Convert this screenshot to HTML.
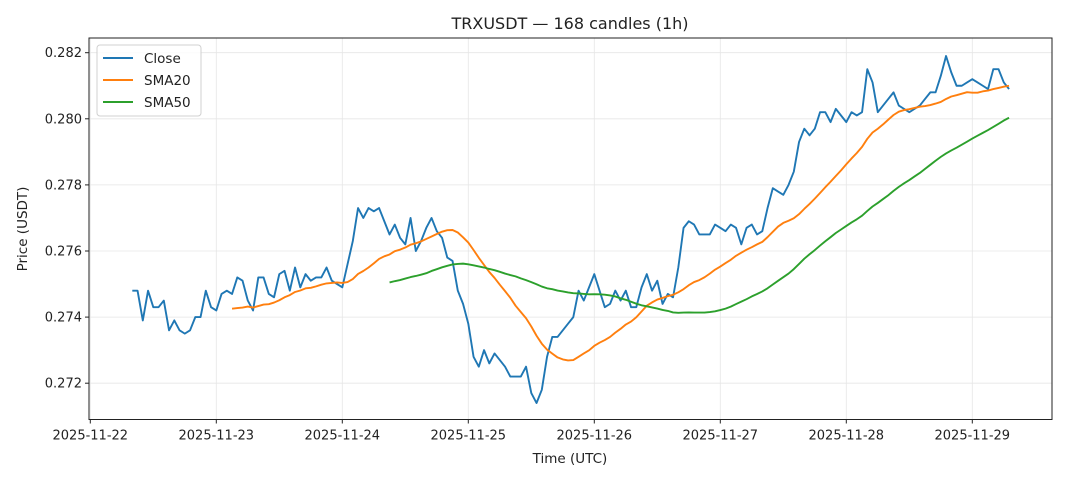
<!DOCTYPE html>
<html><head><meta charset="utf-8"><style>
body{margin:0;background:#fff}
svg{display:block;font-family:"DejaVu Sans","Liberation Sans",sans-serif}
</style></head><body>
<svg id="chart" width="1068" height="481" viewBox="0 0 1068 481"></svg>
<script>
const closeValues=[0.2748,0.2748,0.2739,0.2748,0.2743,0.2743,0.2745,0.2736,0.2739,0.2736,0.2735,0.2736,0.2740,0.2740,0.2748,0.2743,
0.2742,0.2747,0.2748,0.2747,0.2752,0.2751,0.2745,0.2742,0.2752,0.2752,0.2747,0.2746,0.2753,0.2754,0.2748,0.2755,0.2749,0.2753,0.2751,0.2752,0.2752,0.2755,0.2751,0.2750,
0.2749,0.2756,0.2763,0.2773,0.2770,0.2773,0.2772,0.2773,0.2769,0.2765,0.2768,0.2764,0.2762,0.2770,0.2760,0.2763,0.2767,0.2770,0.2766,0.2764,0.2758,0.2757,0.2748,0.2744,
0.2738,0.2728,0.2725,0.2730,0.2726,0.2729,0.2727,0.2725,0.2722,0.2722,0.2722,0.2725,0.2717,0.2714,0.2718,0.2728,0.2734,0.2734,0.2736,0.2738,0.2740,0.2748,0.2745,0.2749,
0.2753,0.2748,0.2743,0.2744,0.2748,0.2745,0.2748,0.2743,0.2743,0.2749,0.2753,0.2748,0.2751,0.2744,0.2747,0.2746,0.2755,0.2767,0.2769,0.2768,0.2765,0.2765,0.2765,0.2768,
0.2767,0.2766,0.2768,0.2767,0.2762,0.2767,0.2768,0.2765,0.2766,0.2773,0.2779,0.2778,0.2777,0.2780,0.2784,0.2793,0.2797,0.2795,0.2797,0.2802,0.2802,0.2799,0.2803,0.2801,
0.2799,0.2802,0.2801,0.2802,0.2815,0.2811,0.2802,0.2804,0.2806,0.2808,0.2804,0.2803,0.2802,0.2803,0.2804,0.2806,0.2808,0.2808,0.2813,0.2819,0.2814,0.2810,0.2810,0.2811,
0.2812,0.2811,0.2810,0.2809,0.2815,0.2815,0.2811,0.2809];
const startHour=8;
const yTicks=[0.272,0.274,0.276,0.278,0.280,0.282];
const yTickLabels=["0.272","0.274","0.276","0.278","0.280","0.282"];
const xTickDays=[0,1,2,3,4,5,6,7];
const xTickLabels=["2025-11-22","2025-11-23","2025-11-24","2025-11-25","2025-11-26","2025-11-27","2025-11-28","2025-11-29"];

const NS="http://www.w3.org/2000/svg";
const svg=document.getElementById('chart');
const L=89,R=1052,T=38,B=419.5;
function xOf(h){return 90.3+h*126/24;}
function yOf(v){return 52.7+(0.282-v)*33050;}
function mk(tag,attrs,parent){const e=document.createElementNS(NS,tag);for(const k in attrs)e.setAttribute(k,attrs[k]);(parent||svg).appendChild(e);return e;}
function sma(arr,n){const out=[];for(let i=0;i<arr.length;i++){if(i<n-1){out.push(null);continue;}let s=0;for(let j=i-n+1;j<=i;j++)s+=arr[j];out.push(s/n);}return out;}

const grid=mk('g',{});


yTicks.forEach(v=>mk('line',{x1:L,x2:R,y1:yOf(v),y2:yOf(v),stroke:'#e6e6e6','stroke-width':0.8},grid));
xTickDays.forEach(d=>mk('line',{x1:xOf(d*24),x2:xOf(d*24),y1:T,y2:B,stroke:'#e6e6e6','stroke-width':0.8},grid));

function drawSeries(vals,color,name){
  let d='';let started=false;
  vals.forEach((v,i)=>{if(v===null)return;d+=(started?'L':'M')+xOf(startHour+i).toFixed(2)+','+yOf(v).toFixed(2);started=true;});
  const p=mk('path',{d:d,fill:'none',stroke:color,'stroke-width':1.9,'stroke-linejoin':'round'});
  
  
}
drawSeries(closeValues,'#1f77b4','close-line');
drawSeries(sma(closeValues,20),'#ff7f0e','sma20-line');
drawSeries(sma(closeValues,50),'#2ca02c','sma50-line');

const frame=mk('rect',{x:L,y:T,width:R-L,height:B-T,fill:'none',stroke:'#222','stroke-width':1});



yTicks.forEach((v,i)=>{
  const y=yOf(v);
  mk('line',{x1:L-4,x2:L,y1:y,y2:y,stroke:'#222'});
  const t=mk('text',{x:L-7,y:y+4.5,'text-anchor':'end','font-size':13,fill:'#222'});
  t.textContent=yTickLabels[i];
  
  
});
xTickDays.forEach((d,i)=>{
  const x=xOf(d*24);
  mk('line',{x1:x,x2:x,y1:B,y2:B+4,stroke:'#222'});
  const t=mk('text',{x:x,y:B+20,'text-anchor':'middle','font-size':13,fill:'#222'});
  t.textContent=xTickLabels[i];
  
  
});
</script>
<div style="position:absolute;left:0;top:0;width:1068px;height:481px;pointer-events:none">
<svg width="1068" height="481" style="font-family:'DejaVu Sans','Liberation Sans',sans-serif">
<text x="570" y="29" text-anchor="middle" font-size="16" fill="#222">TRXUSDT — 168 candles (1h)</text>
<text x="570" y="463" text-anchor="middle" font-size="13.5" fill="#222">Time (UTC)</text>
<text x="27" y="229" text-anchor="middle" font-size="13.5" fill="#222" transform="rotate(-90 27 229)">Price (USDT)</text>
<g>
<rect x="97" y="45" width="104" height="71" rx="3" fill="#fff" fill-opacity="0.85" stroke="#d0d0d0"/>
<line x1="103" x2="133" y1="58" y2="58" stroke="#1f77b4" stroke-width="2"/>
<text x="144" y="63" font-size="13.5" fill="#222">Close</text>
<line x1="103" x2="133" y1="80" y2="80" stroke="#ff7f0e" stroke-width="2"/>
<text x="144" y="85" font-size="13.5" fill="#222">SMA20</text>
<line x1="103" x2="133" y1="102" y2="102" stroke="#2ca02c" stroke-width="2"/>
<text x="144" y="107" font-size="13.5" fill="#222">SMA50</text>
</g>
</svg></div>
</body></html>
